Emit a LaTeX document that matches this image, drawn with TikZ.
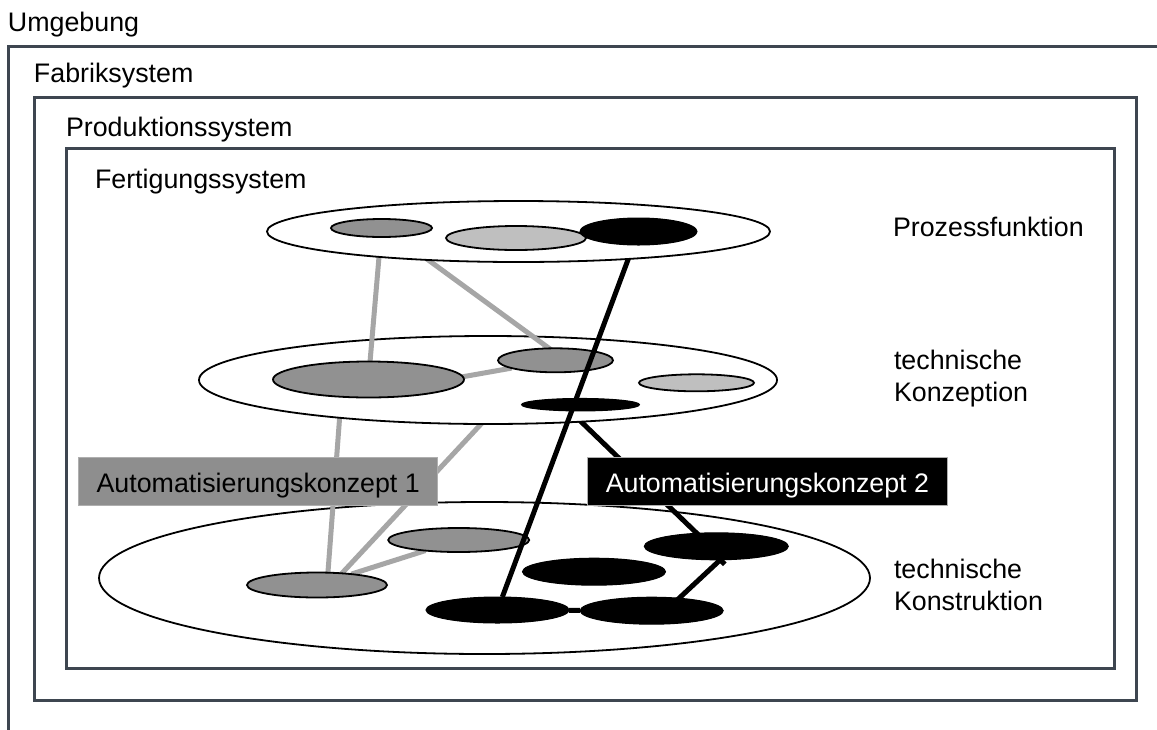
\documentclass[tikz,border=0pt]{standalone}
\usepackage{fontspec}
\setmainfont{Liberation Sans}
\usetikzlibrary{calc,shapes.geometric}

\definecolor{framec}{RGB}{62,70,80}
\definecolor{ellgray}{RGB}{145,145,145}
\definecolor{elllight}{RGB}{191,191,191}
\definecolor{linegray}{RGB}{166,166,166}
\definecolor{boxgray}{RGB}{142,142,142}
\definecolor{boxedge}{RGB}{175,175,175}

% drawing order, back to front
\pgfdeclarelayer{frames}
\pgfdeclarelayer{wbot}
\pgfdeclarelayer{lnbot}
\pgfdeclarelayer{ebot}
\pgfdeclarelayer{wmid}
\pgfdeclarelayer{lnmid}
\pgfdeclarelayer{emid}
\pgfdeclarelayer{lnblk}
\pgfdeclarelayer{wtop}
\pgfdeclarelayer{etop}
\pgfsetlayers{frames,wbot,lnbot,ebot,wmid,lnmid,emid,lnblk,wtop,etop,main}

\begin{document}
\begin{tikzpicture}[x=1pt,y=-1pt,
  framebox/.style={draw=framec, line width=3pt},
  lbl/.style={anchor=base west, inner sep=0pt, outer sep=0pt,
    font=\fontsize{26.8}{32}\selectfont, align=left},
  ell/.style 2 args={ellipse, inner sep=0pt, outer sep=0pt,
    minimum width=#1pt, minimum height=#2pt},
  plate/.style 2 args={ell={#1}{#2}, draw=black, line width=1.8pt, fill=white},
  greyel/.style 2 args={ell={#1}{#2}, draw=black, line width=1.8pt, fill=ellgray},
  lightel/.style 2 args={ell={#1}{#2}, draw=black, line width=1.8pt, fill=elllight},
  blackel/.style 2 args={ell={#1}{#2}, draw=black, line width=1pt, fill=black},
  gcon/.style={draw=linegray, line width=5pt},
  kcon/.style={draw=black, line width=5pt},
  akbox/.style={rectangle, minimum width=359.5pt, minimum height=48pt,
    inner sep=0pt, text height=22pt, text depth=0pt,
    font=\fontsize{26.8}{32}\selectfont, line width=1pt}
]
\useasboundingbox (0,0) rectangle (1157,729);

% nested system boundaries
\begin{pgfonlayer}{frames}
  \draw[framebox] (1170,46.5) -- (8.7,46.5) -- (8.7,740);
  \draw[framebox] (34,97.5) rectangle (1136,700.7);
  \draw[framebox] (66,148.3) rectangle (1114,668.5);
\end{pgfonlayer}

% level: technische Konstruktion
\begin{pgfonlayer}{wbot}
  \node[plate={771}{152}] (bot) at (484.5,578) {};
\end{pgfonlayer}
\begin{pgfonlayer}{ebot}
  \node[greyel={140}{25}] (bg1) at (317,585) {};
  \node[greyel={141}{24}] (bg2) at (458.7,540) {};
  \node[blackel={143}{26}] (bk1) at (497.5,610) {};
  \node[blackel={143}{27}] (bk2) at (594,571.7) {};
  \node[blackel={143}{27}] (bk3) at (651.7,610.7) {};
  \node[blackel={144}{27}] (bk4) at (716.3,546.3) {};
\end{pgfonlayer}

% level: technische Konzeption
\begin{pgfonlayer}{wmid}
  \node[plate={578}{88}] (mid) at (488,380) {};
\end{pgfonlayer}
\begin{pgfonlayer}{emid}
  \node[greyel={191}{36}] (mg1) at (368.5,379.5) {};
  \node[greyel={115}{24}] (mg2) at (555.5,360.3) {};
  \node[lightel={115}{17}] (ml) at (696.5,382.8) {};
  \node[blackel={118}{12.5}] (mk) at (580.5,404.7) {};
\end{pgfonlayer}

% level: Prozessfunktion
\begin{pgfonlayer}{wtop}
  \node[plate={503}{61}] (top) at (518.5,231.5) {};
\end{pgfonlayer}
\begin{pgfonlayer}{etop}
  \node[greyel={101}{18}] (tg) at (381.5,228) {};
  \node[lightel={140}{24}] (tl) at (516,238) {};
  \node[blackel={117}{27}] (tk) at (638.5,231.5) {};
\end{pgfonlayer}

% links of Automatisierungskonzept 1 (grey)
\begin{pgfonlayer}{lnmid}
  \draw[gcon] (tg) -- (mg1);
  \draw[gcon] ($(tg)+(3,0)$) -- ($(mg2)+(10,0)$);
  \draw[gcon] ($(mg1)+(0,14)$) -- (mg2);
\end{pgfonlayer}
\begin{pgfonlayer}{lnbot}
  \draw[gcon] ($(mg1)+(-26,0)$) -- ($(bg1)+(10,0)$);
  \draw[gcon] ($(mg2)+(-15,0)$) -- ($(bg1)+(14,0)$);
  \draw[gcon] (bg1) -- (bg2);
\end{pgfonlayer}

% links of Automatisierungskonzept 2 (black)
\begin{pgfonlayer}{lnblk}
  \draw[kcon] (tk) -- (bk1);
\end{pgfonlayer}
\begin{pgfonlayer}{lnbot}
  \draw[kcon] ($(mk)+(-17,0)$) -- ($(bk4)+(-6,0)$);
  \draw[kcon] (bk1) -- (bk3);
  \draw[kcon] ($(bk3)+(14,0)$) -- ($(bk4.south)+(4,0)$) -- ++(4.5,4.5);
\end{pgfonlayer}

% concept labels
\node[akbox, fill=boxgray, draw=boxedge, text=black] (ak1) at (258.2,481) {Automatisierungskonzept 1};
\node[akbox, fill=black, draw=boxedge, text=white] (ak2) at (767.4,481.2) {Automatisierungskonzept 2};

% system and level names
\node[lbl] (umg) at (8,31.7) {Umgebung};
\node[lbl] (fab) at (34,82.7) {Fabriksystem};
\node[lbl] (prod) at (66,136) {Produktionssystem};
\node[lbl] (fert) at (95,188) {Fertigungssystem};
\node[lbl] (pf) at (893,236.7) {Prozessfunktion};
\node[lbl] (tkz) at (894,401) {technische\\Konzeption};
\node[lbl] (tks) at (894,610) {technische\\Konstruktion};
\end{tikzpicture}
\end{document}
